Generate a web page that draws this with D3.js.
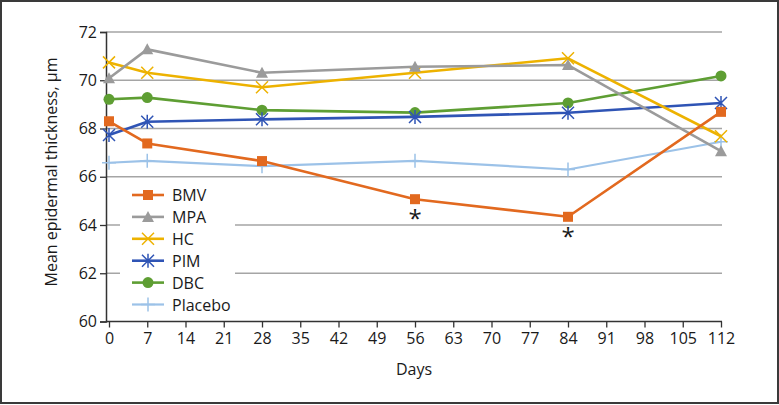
<!DOCTYPE html>
<html>
<head>
<meta charset="utf-8">
<script src="https://cdn.jsdelivr.net/npm/d3@7"></script>
<style>
  body { margin: 0; background: #fff; }
  svg { display: block; font-family: "Open Sans", sans-serif; }
</style>
</head>
<body>
<div id="chart"></div>
<script>
// days on the x axis
var days = [0, 7, 28, 56, 84, 112];
var xTicks = d3.range(0, 113, 7);
var yTicks = [60, 62, 64, 66, 68, 70, 72];

// mean epidermal thickness per group (µm)
var bmv     = [68.30, 67.38, 66.65, 65.07, 64.34, 68.69];
var mpa     = [70.08, 71.28, 70.31, 70.56, 70.63, 67.06];
var hc      = [70.74, 70.31, 69.71, 70.31, 70.91, 67.68];
var pim     = [67.73, 68.28, 68.38, 68.48, 68.65, 69.06];
var dbc     = [69.21, 69.28, 68.76, 68.66, 69.06, 70.18];
var placebo = [66.58, 66.66, 66.44, 66.66, 66.30, 67.45];

// days marked with an asterisk (BMV significant)
var starDays = [56, 84];

var series = [
  {name: "BMV", values: bmv, color: "#E2691F", marker: "square"},
  {name: "MPA", values: mpa, color: "#9B9B9B", marker: "triangle"},
  {name: "HC", values: hc, color: "#EDB200", marker: "x"},
  {name: "PIM", values: pim, color: "#2F54B5", marker: "asterisk"},
  {name: "DBC", values: dbc, color: "#5E9E33", marker: "circle"},
  {name: "Placebo", values: placebo, color: "#9CC2E8", marker: "plus"}
];

var W = 779, H = 405;
var fs = "16px";

var svg = d3.select("#chart").append("svg")
  .attr("width", W).attr("height", H);

// outer frame
svg.append("rect")
  .attr("x", 1).attr("y", 1).attr("width", W - 2).attr("height", H - 3)
  .attr("fill", "#fff").attr("stroke", "#3a3a3a").attr("stroke-width", 2);

var x = d3.scaleLinear().domain([0, 112]).range([109, 721]);
var y = d3.scaleLinear().domain([60, 72]).range([321.5, 32]);

// gridlines
svg.append("g")
  .selectAll("line")
  .data(yTicks.filter(function(d){ return d > 60; }))
  .enter().append("line")
  .attr("x1", 106).attr("x2", 722)
  .attr("y1", function(d){ return y(d); })
  .attr("y2", function(d){ return y(d); })
  .attr("stroke", "#a5a5a5").attr("stroke-width", 1.5);

// y axis
var yAxis = svg.append("g")
  .attr("transform", "translate(106,0)")
  .call(d3.axisLeft(y).tickValues(yTicks).tickSize(6).tickPadding(3));
yAxis.select(".domain").attr("stroke", "#333").attr("stroke-width", 1.5);
yAxis.selectAll(".tick line").attr("stroke", "#333").attr("stroke-width", 1.3);
yAxis.selectAll("text").attr("font-size", fs).attr("fill", "#1a1a1a")
  .attr("font-family", "Open Sans, sans-serif");

// x axis
var xAxis = svg.append("g")
  .attr("transform", "translate(0," + y(60) + ")")
  .call(d3.axisBottom(x).tickValues(xTicks).tickSize(6).tickPadding(5));
xAxis.select(".domain").attr("stroke", "#333").attr("stroke-width", 1.5)
  .attr("d", "M106,0H722");
xAxis.selectAll(".tick line").attr("stroke", "#333").attr("stroke-width", 1.3);
xAxis.selectAll("text").attr("font-size", fs).attr("fill", "#1a1a1a")
  .attr("font-family", "Open Sans, sans-serif");

// axis titles
svg.append("text")
  .attr("x", 414).attr("y", 375)
  .attr("text-anchor", "middle")
  .attr("font-size", fs).attr("fill", "#1a1a1a")
  .text("Days");

svg.append("text")
  .attr("transform", "translate(57,172) rotate(-90)")
  .attr("text-anchor", "middle")
  .attr("font-size", fs).attr("fill", "#1a1a1a")
  .text("Mean epidermal thickness, µm");

// markers
function drawMarker(g, type, color, cx, cy) {
  if (type === "square") {
    g.append("rect").attr("x", cx - 5).attr("y", cy - 5).attr("width", 10).attr("height", 10)
      .attr("fill", color);
  } else if (type === "triangle") {
    g.append("path").attr("d", "M" + cx + "," + (cy - 6) + "L" + (cx + 6) + "," + (cy + 5) + "L" + (cx - 6) + "," + (cy + 5) + "Z")
      .attr("fill", color);
  } else if (type === "circle") {
    g.append("circle").attr("cx", cx).attr("cy", cy).attr("r", 5.5).attr("fill", color);
  } else if (type === "x") {
    g.append("path").attr("d", "M" + (cx - 6) + "," + (cy - 6) + "L" + (cx + 6) + "," + (cy + 6) + "M" + (cx + 6) + "," + (cy - 6) + "L" + (cx - 6) + "," + (cy + 6))
      .attr("stroke", color).attr("stroke-width", 1.5).attr("fill", "none");
  } else if (type === "asterisk") {
    g.append("path").attr("d", "M" + (cx - 6) + "," + (cy - 6) + "L" + (cx + 6) + "," + (cy + 6) + "M" + (cx + 6) + "," + (cy - 6) + "L" + (cx - 6) + "," + (cy + 6) + "M" + cx + "," + (cy - 7) + "L" + cx + "," + (cy + 7))
      .attr("stroke", color).attr("stroke-width", 1.5).attr("fill", "none");
  } else if (type === "plus") {
    g.append("path").attr("d", "M" + (cx - 7) + "," + cy + "L" + (cx + 7) + "," + cy + "M" + cx + "," + (cy - 7) + "L" + cx + "," + (cy + 7))
      .attr("stroke", color).attr("stroke-width", 1.5).attr("fill", "none");
  }
}

var line = d3.line()
  .x(function(d){ return x(d[0]); })
  .y(function(d){ return y(d[1]); });

// draw series (reverse so BMV on top)
series.slice().reverse().forEach(function(s) {
  var pts = days.map(function(d, i){ return [d, s.values[i]]; });
  var g = svg.append("g");
  g.append("path").datum(pts)
    .attr("d", line)
    .attr("fill", "none")
    .attr("stroke", s.color)
    .attr("stroke-width", s.name === "Placebo" ? 2.2 : 2.6)
    .attr("stroke-linejoin", "round");
  pts.forEach(function(p) {
    drawMarker(g, s.marker, s.color, x(p[0]), y(p[1]));
  });
});

// significance asterisks
svg.selectAll(".star")
  .data(starDays)
  .enter().append("text")
  .attr("x", function(d){ return x(d); })
  .attr("y", function(d){ return y(bmv[days.indexOf(d)]) + 28; })
  .attr("text-anchor", "middle")
  .attr("font-size", "24px").attr("fill", "#1a1a1a")
  .text("*");

// legend
var legend = svg.append("g");
legend.append("rect")
  .attr("x", 120).attr("y", 183).attr("width", 115).attr("height", 133)
  .attr("fill", "#fff");
series.forEach(function(s, i) {
  var ly = 195 + i * 21.9;
  var g = legend.append("g");
  g.append("line").attr("x1", 132).attr("x2", 164).attr("y1", ly).attr("y2", ly)
    .attr("stroke", s.color).attr("stroke-width", s.name === "Placebo" ? 2.2 : 2.6);
  drawMarker(g, s.marker, s.color, 148, ly);
  g.append("text").attr("x", 172).attr("y", ly + 6)
    .attr("font-size", fs).attr("fill", "#1a1a1a")
    .text(s.name);
});
</script>
</body>
</html>
